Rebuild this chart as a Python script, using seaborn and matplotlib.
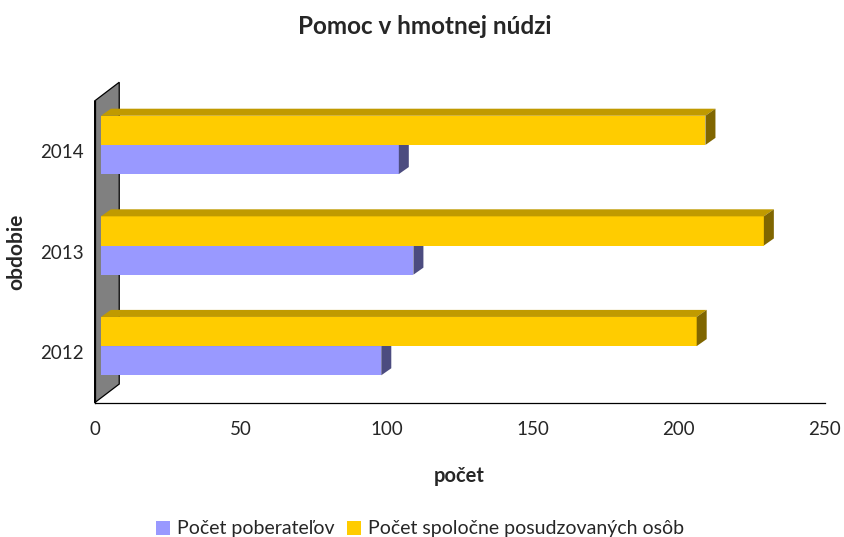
import matplotlib
matplotlib.use("Agg")
import matplotlib.pyplot as plt
from matplotlib.patches import Polygon, Patch
import seaborn as sns
import pandas as pd

years = ["2014", "2013", "2012"]
poberatelia = [102, 107, 96]
spolocne = [207, 227, 204]
series_names = ["Počet poberateľov", "Počet spoločne posudzovaných osôb"]
title = "Pomoc v hmotnej núdzi"
xlabel = "počet"
ylabel = "obdobie"
xticks = [0, 50, 100, 150, 200, 250]

front_colors = {"Počet poberateľov": "#9999FF", "Počet spoločne posudzovaných osôb": "#FFCC00"}
top_colors = {"Počet poberateľov": "#7070C0", "Počet spoločne posudzovaných osôb": "#C09A00"}
side_colors = {"Počet poberateľov": "#4C4C80", "Počet spoločne posudzovaných osôb": "#806600"}

sns.set_style("white")
plt.rcParams["font.family"] = ["Lato", "DejaVu Sans"]

df = pd.DataFrame({
    "obdobie": years * 2,
    "pocet": poberatelia + spolocne,
    "serie": [series_names[0]] * 3 + [series_names[1]] * 3,
})

fig = plt.figure(figsize=(8.45, 5.37), dpi=100)
ax = fig.add_axes([0.112, 0.250, 0.864, 0.562])

sns.barplot(data=df, y="obdobie", x="pocet", hue="serie", order=years,
            hue_order=[series_names[1], series_names[0]],
            palette=front_colors, width=0.58, dodge=True, ax=ax,
            legend=False, saturation=1, errorbar=None, linewidth=0)

ax.set_xlim(0, 250)
ax.set_ylim(2.5, -0.5)

# 3D geometry (in data units)
d0 = 2.16     # front face depth offset in x
shift = 0.063  # front face upward shift
dx = 3.42     # depth in x
dy = 0.07     # depth in y

patches = list(ax.patches)
for p in patches:
    color = p.get_facecolor()
    name = None
    for k, v in front_colors.items():
        if matplotlib.colors.to_hex(color).lower() == v.lower():
            name = k
    p.set_x(d0)
    p.set_y(p.get_y() - shift)
    z = 3 if name == series_names[1] else 2
    p.set_zorder(z)
    x0, y0, w, h = p.get_x(), p.get_y(), p.get_width(), p.get_height()
    top = Polygon([(x0, y0), (x0 + dx, y0 - dy), (x0 + w + dx, y0 - dy), (x0 + w, y0)],
                  closed=True, facecolor=top_colors[name], edgecolor="none",
                  zorder=z, clip_on=False)
    side = Polygon([(x0 + w, y0), (x0 + w + dx, y0 - dy), (x0 + w + dx, y0 + h - dy), (x0 + w, y0 + h)],
                   closed=True, facecolor=side_colors[name], edgecolor="none",
                   zorder=z, clip_on=False)
    ax.add_patch(top)
    ax.add_patch(side)

# back wall
wd_x = 8.42
wd_y = 0.186
wall = Polygon([(0, 2.5), (0, -0.5), (wd_x, -0.5 - wd_y), (wd_x, 2.5 - wd_y)],
               closed=True, facecolor="#808080", edgecolor="black", linewidth=0.9,
               zorder=1, clip_on=False)
ax.add_patch(wall)

for s in ["top", "right"]:
    ax.spines[s].set_visible(False)
for s in ["left", "bottom"]:
    ax.spines[s].set_color("black")
    ax.spines[s].set_linewidth(0.9)
    ax.spines[s].set_zorder(5)

ax.set_xticks(xticks)
ax.set_xticklabels([str(t) for t in xticks], fontsize=13.5)
ax.tick_params(axis="x", direction="out", length=4.5, width=0.9, color="black", pad=8.5)
ax.set_yticks([0, 1, 2])
ax.set_yticklabels(years, fontsize=13.5)
ax.set_yticks([-0.5, 0.5, 1.5, 2.5], minor=True)
ax.tick_params(axis="y", which="major", length=0, pad=8)
ax.tick_params(axis="y", which="minor", direction="out", length=4.5, width=0.9, color="black")

ax.set_xlabel(xlabel, fontsize=14.5, fontweight="bold", labelpad=20)
ax.set_ylabel(ylabel, fontsize=15, fontweight="bold", labelpad=10)

fig.text(0.503, 0.950, title, ha="center", va="center", fontsize=17.5, fontweight="bold")

handles = [Patch(facecolor=front_colors[n], edgecolor="none", label=n) for n in series_names]
fig.legend(handles=handles, loc="center", bbox_to_anchor=(0.497, 0.015), ncol=2,
           frameon=False, fontsize=14, handlelength=0.75, handleheight=0.75,
           handletextpad=0.35, columnspacing=0.6, borderaxespad=0)

fig.savefig("out.png", dpi=100)
